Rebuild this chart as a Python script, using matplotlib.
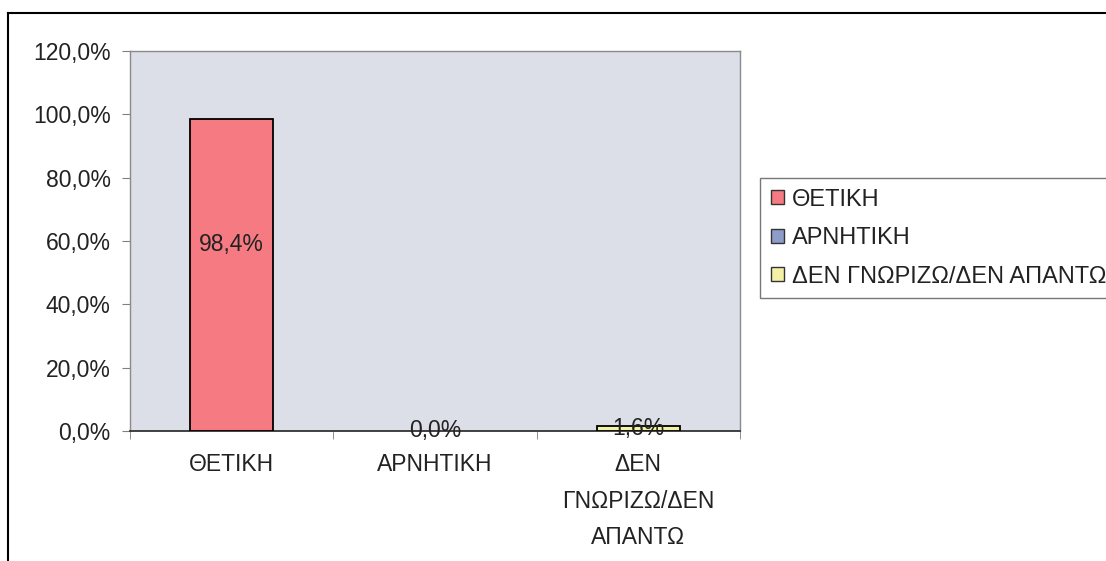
import matplotlib
matplotlib.use("Agg")
import matplotlib.pyplot as plt
from matplotlib.lines import Line2D
from matplotlib.patches import Patch

categories = ["ΘΕΤΙΚΗ", "ΑΡΝΗΤΙΚΗ", "ΔΕΝ ΓΝΩΡΙΖΩ/ΔΕΝ ΑΠΑΝΤΩ"]
tick_labels = ["ΘΕΤΙΚΗ", "ΑΡΝΗΤΙΚΗ", "ΔΕΝ\nΓΝΩΡΙΖΩ/ΔΕΝ\nΑΠΑΝΤΩ"]
values = [98.4, 0.0, 1.6]
value_labels = ["98,4%", "0,0%", "1,6%"]
colors = ["#f57a82", "#8e9cc9", "#f3f1a6"]
yticks = [0, 20, 40, 60, 80, 100, 120]
ytick_labels = ["0,0%", "20,0%", "40,0%", "60,0%", "80,0%", "100,0%", "120,0%"]

plt.rcParams['font.family'] = ['Liberation Sans', 'DejaVu Sans']

W, H = 1106, 561
fig = plt.figure(figsize=(W / 100, H / 100), dpi=100)
fig.patch.set_facecolor("white")

l, r, t, b = 130, 740, 51, 431
ax = fig.add_axes([l / W, 1 - b / H, (r - l) / W, (b - t) / H])
ax.set_facecolor("#dcdee8")

x = list(range(len(categories)))
ax.bar(x, values, width=0.41, color=colors, edgecolor="black",
       linewidth=[1.3 if v > 0 else 0 for v in values], zorder=3)
ax.set_xlim(-0.5, 2.5)
ax.set_ylim(0, 120)

ax.set_yticks(yticks)
ax.set_yticklabels(ytick_labels, fontsize=16.5, color="#222222")
ax.set_xticks(x)
ax.set_xticklabels(tick_labels, fontsize=16.5, linespacing=1.75, va="top", color="#222222")
ax.tick_params(axis="x", length=0, pad=16)
ax.tick_params(axis="y", length=6, color="#808080", pad=8)
ax.set_xticks([-0.5, 0.5, 1.5, 2.5], minor=True)
ax.tick_params(axis="x", which="minor", length=6, color="#808080")

for s in ["top", "right", "left"]:
    ax.spines[s].set_color("#8a8a8a")
    ax.spines[s].set_linewidth(1.0)
ax.spines["bottom"].set_color("#333333")
ax.spines["bottom"].set_linewidth(1.3)

# value labels
ax.text(0, values[0] * 0.6, value_labels[0], ha="center", va="center", fontsize=16.5, color="#222222", zorder=4)
ax.text(1, values[1], value_labels[1], ha="center", va="center", fontsize=16.5, color="#222222", zorder=4)
ax.text(2, values[2] * 0.5, value_labels[2], ha="center", va="center", fontsize=16.5, color="#222222", zorder=4)

# legend
handles = [Patch(facecolor=c, edgecolor="#333333", linewidth=1.0) for c in colors]
leg = fig.legend(handles, categories, loc="upper left",
                 bbox_to_anchor=(760 / W, 1 - 178 / H), fontsize=17,
                 frameon=True, fancybox=False, edgecolor="#555555",
                 handlelength=0.55, handleheight=0.55, handletextpad=0.35,
                 labelspacing=0.7, borderpad=0.45, borderaxespad=0,
                 labelcolor="#222222")
leg.get_frame().set_linewidth(1.0)

# outer frame lines
fig.add_artist(Line2D([8 / W, 8 / W], [0, 1 - 13 / H], color="black", linewidth=1.5))
fig.add_artist(Line2D([8 / W, 1], [1 - 13 / H, 1 - 13 / H], color="black", linewidth=1.5))

fig.savefig("out.png", dpi=100)
